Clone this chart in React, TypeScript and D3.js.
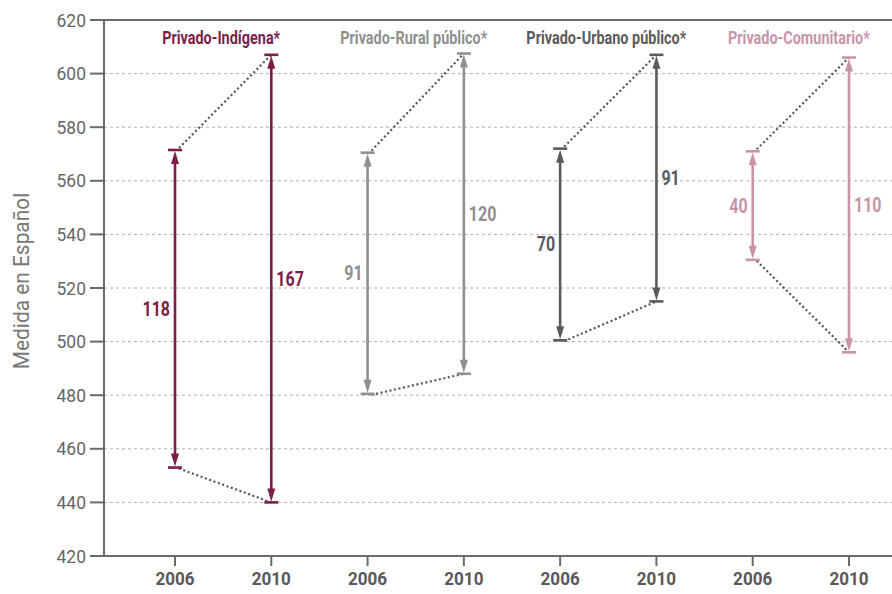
import React from "react";
import * as d3 from "d3";

const groups = ["Privado-Indígena*", "Privado-Rural público*", "Privado-Urbano público*", "Privado-Comunitario*"];
const years = ["2006", "2010"];
const highValues = [
  [571.5, 607],
  [570.5, 607.5],
  [572, 607],
  [571, 606],
];
const lowValues = [
  [453, 440],
  [480.5, 488],
  [500.5, 515],
  [530.5, 496],
];
const gapLabels = [
  [118, 167],
  [91, 120],
  [70, 91],
  [40, 110],
];
const yTicks = [420, 440, 460, 480, 500, 520, 540, 560, 580, 600, 620];
const colors = ["#7d1d47", "#8f8f8f", "#5a5b5d", "#c994a9"];

const W = 892;
const H = 594;
const FONT = "'Roboto', 'Liberation Sans', sans-serif";

export default function App() {
  const left = 104;
  const top = 20;
  const bottom = 556;
  const y = d3.scaleLinear().domain([420, 620]).range([bottom, top]);
  const keys: string[] = [];
  groups.forEach((g, gi) => years.forEach((yr) => keys.push(gi + "-" + yr)));
  const x = d3.scalePoint<string>().domain(keys).range([175, 849]);

  const axisColor = "#6b6b6b";

  const arrowHead = (cx: number, tipY: number, dir: number) => {
    const len = 13;
    const hw = 4;
    const by = tipY - dir * len;
    return `M${cx},${tipY} L${cx - hw},${by} L${cx + hw},${by} Z`;
  };

  return (
    <svg width={W} height={H} style={{ position: "absolute", left: 0, top: 0, background: "#fff" }}>
      {yTicks.filter((t) => t > 420 && t < 620).map((t) => (
        <line key={"g" + t} x1={left} x2={W} y1={y(t)} y2={y(t)} stroke="#b0b0b0" strokeWidth={1} strokeDasharray="3,3" />
      ))}
      <line x1={left} x2={W} y1={y(620)} y2={y(620)} stroke={axisColor} strokeWidth={2} />
      <line x1={left} x2={W} y1={y(420)} y2={y(420)} stroke={axisColor} strokeWidth={2} />
      <line x1={left} x2={left} y1={y(620) - 1} y2={y(420) + 1} stroke={axisColor} strokeWidth={2} />
      {yTicks.map((t) => (
        <g key={"t" + t}>
          <line x1={left - 14} x2={left} y1={y(t)} y2={y(t)} stroke={axisColor} strokeWidth={2} />
          <text
            transform={`translate(${left - 18},${y(t)}) scale(0.92,1)`}
            dy="0.35em"
            textAnchor="end"
            fontFamily={FONT}
            fontSize={19}
            fill="#666"
          >
            {t}
          </text>
        </g>
      ))}
      <text
        transform={`translate(29,${(top + bottom) / 2 - 7}) rotate(-90) scale(0.95,1)`}
        textAnchor="middle"
        fontFamily={FONT}
        fontSize={22}
        fill="#777"
      >
        Medida en Español
      </text>
      {keys.map((k, i) => (
        <g key={"x" + k}>
          <line x1={x(k)} x2={x(k)} y1={bottom} y2={bottom + 10} stroke={axisColor} strokeWidth={2} />
          <text
            transform={`translate(${x(k)},585) scale(0.95,1)`}
            textAnchor="middle"
            fontFamily={FONT}
            fontSize={18}
            fontWeight="bold"
            fill="#595959"
          >
            {years[i % 2]}
          </text>
        </g>
      ))}
      {groups.map((g, gi) => {
        const k0 = gi + "-" + years[0];
        const k1 = gi + "-" + years[1];
        const x0 = x(k0)!;
        const x1 = x(k1)!;
        const c = colors[gi];
        return (
          <g key={g}>
            <text
              transform={`translate(${(x0 + x1) / 2 - 2},44) scale(0.76,1)`}
              textAnchor="middle"
              fontFamily={FONT}
              fontSize={19}
              fontWeight="bold"
              fill={c}
            >
              {g}
            </text>
            <line x1={x0 + 4} y1={y(highValues[gi][0]) - 2} x2={x1} y2={y(highValues[gi][1])} stroke="#555" strokeWidth={2.2} strokeDasharray="2,2.6" />
            <line x1={x0 + 4} y1={y(lowValues[gi][0]) + 1} x2={x1} y2={y(lowValues[gi][1])} stroke="#555" strokeWidth={2.2} strokeDasharray="2,2.6" />
            {years.map((yr, yi) => {
              const cx = yi === 0 ? x0 : x1;
              const hy = y(highValues[gi][yi]);
              const ly = y(lowValues[gi][yi]);
              const mid = (hy + ly) / 2;
              return (
                <g key={yr}>
                  <line x1={cx} x2={cx} y1={hy + 8} y2={ly - 8} stroke={c} strokeWidth={2.6} />
                  <path d={arrowHead(cx, hy + 1, -1)} fill={c} />
                  <path d={arrowHead(cx, ly - 1, 1)} fill={c} />
                  <line x1={cx - 7} x2={cx + 7} y1={hy} y2={hy} stroke={c} strokeWidth={2.6} />
                  <line x1={cx - 7} x2={cx + 7} y1={ly} y2={ly} stroke={c} strokeWidth={2.6} />
                  <text
                    transform={`translate(${yi === 0 ? cx - 5 : cx + 5},${mid}) scale(0.8,1)`}
                    dy="0.35em"
                    textAnchor={yi === 0 ? "end" : "start"}
                    fontFamily={FONT}
                    fontSize={20}
                    fontWeight="bold"
                    fill={c}
                  >
                    {gapLabels[gi][yi]}
                  </text>
                </g>
              );
            })}
          </g>
        );
      })}
    </svg>
  );
}
